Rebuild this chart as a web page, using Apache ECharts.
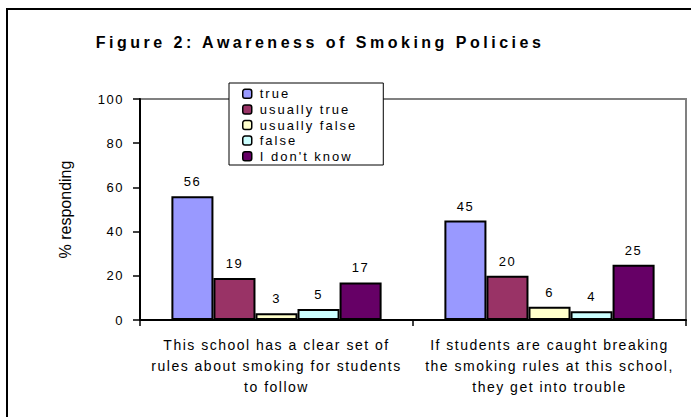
<!DOCTYPE html>
<html>
<head>
<meta charset="utf-8">
<title>Figure 2: Awareness of Smoking Policies</title>
<script src="https://cdn.jsdelivr.net/npm/echarts@6/dist/echarts.min.js"></script>
<style>
  html, body { margin: 0; padding: 0; background: #fff; }
  #chart { width: 691px; height: 417px; }
  /* wide tracking on chart text, as in the printed figure */
  #chart text { letter-spacing: 1.5px; }
  #chart text[fill="#000001"] { letter-spacing: 3.5px; }
  #chart text[fill="#000002"] { letter-spacing: 2px; }
  #chart text[fill="#010101"] { letter-spacing: 0; }
</style>
</head>
<body>
<div id="chart"></div>
<script>
// Survey statements (x categories)
const categories = [
  'This school has a clear set of\nrules about smoking for students\nto follow',
  'If students are caught breaking\nthe smoking rules at this school,\nthey get into trouble'
];

// Response options and their percentages for each statement
const responses = ['true', 'usually true', 'usually false', 'false', "I don't know"];
const valuesTrue = [56, 45];
const valuesUsuallyTrue = [19, 20];
const valuesUsuallyFalse = [3, 6];
const valuesFalse = [5, 4];
const valuesDontKnow = [17, 25];

const yTicks = [0, 20, 40, 60, 80, 100];

const colors = ['#9999FF', '#993366', '#FFFFCC', '#CCFFFF', '#660066'];
const seriesValues = [valuesTrue, valuesUsuallyTrue, valuesUsuallyFalse, valuesFalse, valuesDontKnow];

const FONT = '"Liberation Sans", Arial, sans-serif';

const chart = echarts.init(document.getElementById('chart'), null, { renderer: 'svg' });

chart.setOption({
  animation: false,
  backgroundColor: '#ffffff',
  graphic: [
    {
      type: 'rect',
      shape: { x: 7, y: 9, width: 720, height: 440 },
      style: { fill: 'none', stroke: '#000', lineWidth: 2 },
      silent: true,
      z: -10
    },
    {
      type: 'text',
      x: 320,
      y: 42,
      style: {
        text: 'Figure 2: Awareness of Smoking Policies',
        fill: '#000001',
        font: 'bold 16px ' + FONT,
        textAlign: 'center',
        textVerticalAlign: 'middle'
      }
    }
  ],
  legend: {
    data: responses,
    orient: 'vertical',
    left: 229,
    top: 83,
    padding: [3, 52, 1, 13],
    itemGap: 0,
    itemWidth: 9,
    itemHeight: 9,
    itemStyle: { borderColor: '#000', borderWidth: 1.5 },
    textStyle: { fontFamily: FONT, fontSize: 13, color: '#000002', lineHeight: 15.6, padding: [0, 0, 0, 3] },
    backgroundColor: '#fff',
    borderColor: '#000',
    borderWidth: 1,
    borderRadius: 0,
    z: 10
  },
  grid: {
    left: 140,
    right: 5,
    top: 99,
    bottom: 97,
    show: true,
    borderColor: '#808080',
    borderWidth: 2,
    containLabel: false
  },
  xAxis: {
    type: 'category',
    data: categories,
    axisLine: { lineStyle: { color: '#000', width: 2 } },
    axisTick: { show: true, length: 6, lineStyle: { color: '#000', width: 1.5 } },
    axisLabel: {
      fontFamily: FONT,
      fontSize: 14,
      color: '#000',
      lineHeight: 21,
      margin: 14,
      interval: 0
    }
  },
  yAxis: {
    type: 'value',
    min: 0,
    max: 100,
    interval: 20,
    name: '% responding',
    nameLocation: 'middle',
    nameGap: 67,
    nameTextStyle: { fontFamily: FONT, fontSize: 16, color: '#010101' },
    axisLine: { show: true, lineStyle: { color: '#000', width: 2 } },
    axisTick: { show: true, length: 7, lineStyle: { color: '#000', width: 1.5 } },
    splitLine: { show: false },
    axisLabel: {
      fontFamily: FONT,
      fontSize: 13,
      color: '#000',
      margin: 16,
      formatter: function (v) { return yTicks.indexOf(v) >= 0 ? String(v) : ''; }
    }
  },
  series: responses.map(function (name, i) {
    return {
      name: name,
      type: 'bar',
      data: seriesValues[i],
      barGap: '0%',
      barCategoryGap: '23%',
      itemStyle: { color: colors[i], borderColor: '#000', borderWidth: 2 },
      label: {
        show: true,
        position: 'top',
        distance: 8,
        fontFamily: FONT,
        fontSize: 13,
        color: '#000'
      }
    };
  })
});
</script>
</body>
</html>
